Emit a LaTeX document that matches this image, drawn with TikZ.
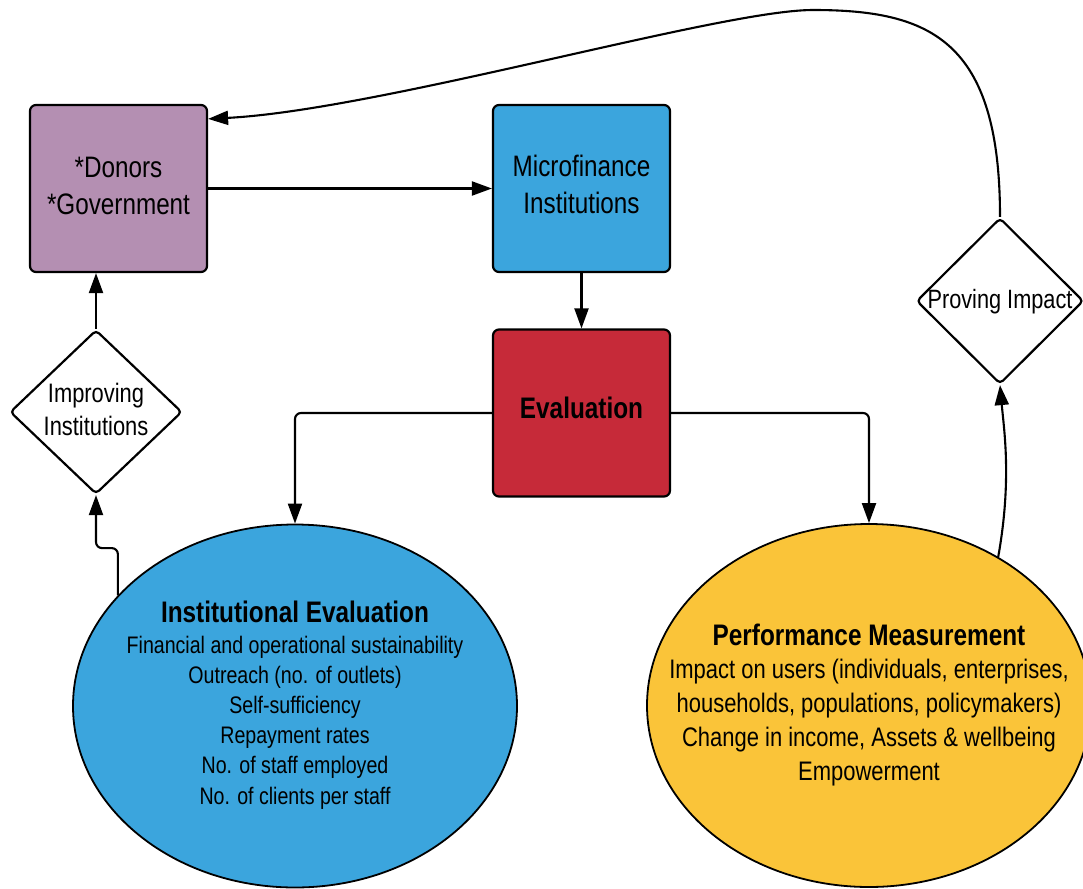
\documentclass[tikz,border=0pt]{standalone}
\usepackage{fontspec}
\setmainfont{Liberation Sans}[FakeStretch=0.82]
\usetikzlibrary{shapes.geometric,arrows.meta,calc}

\definecolor{donorpurple}{HTML}{B48FB2}
\definecolor{mfiblue}{HTML}{3BA5DD}
\definecolor{evalred}{HTML}{C62A39}
\definecolor{perfyellow}{HTML}{FAC439}

\tikzset{
  box/.style={draw=black, line width=2.2pt, rounded corners=6pt,
    minimum width=177pt, minimum height=167pt, inner sep=0pt},
  decision/.style={draw=black, line width=2.2pt, diamond, rounded corners=4pt,
    fill=white, inner sep=0pt},
  oval/.style={draw=black, line width=1.8pt, ellipse, inner sep=0pt,
    minimum width=444pt, minimum height=363pt},
  label/.style={align=center, anchor=base, inner sep=0pt},
  conn/.style={line width=2.1pt, -{Triangle[length=20pt,width=14pt]}},
}

\begin{document}
\begin{tikzpicture}[x=1pt, y=-1pt]
  \clip (0,0) rectangle (1083,888);
  \fill[white] (0,0) rectangle (1083,888);

  % main boxes
  \node[box, fill=donorpurple] (donors) at (118.5,188.5) {};
  \node[box, fill=mfiblue] (mfi) at (581.5,188.5) {};
  \node[box, fill=evalred] (eval) at (581.5,413) {};

  % decision diamonds
  \node[decision, minimum width=172pt, minimum height=164pt] (improving) at (96,412) {};
  \node[decision, minimum width=167pt, minimum height=166pt] (proving) at (1000,301) {};

  % evaluation outcomes
  \node[oval, fill=mfiblue] (inst) at (295,706) {};
  \node[oval, fill=perfyellow] (perf) at (869,705.5) {};

  % texts (multi-line labels are placed by the baseline of their last line)
  \node[label, font=\fontsize{29.6}{37}\selectfont] (donorsT) at (118.5,214) {*Donors\\*Government};
  \node[label, font=\fontsize{29.6}{37}\selectfont] (mfiT) at (581.5,213) {Microfinance\\Institutions};
  \node[label, font=\bfseries\fontsize{29.7}{37}\selectfont] (evalT) at (581.5,418) {Evaluation};
  \node[label, font=\fontsize{26.7}{33}\selectfont] (improvingT) at (96,435) {Improving\\Institutions};
  \node[label, font=\fontsize{26.5}{33}\selectfont] (provingT) at (1000,308) {Proving Impact};

  \node[label, font=\bfseries\fontsize{29.7}{35}\selectfont] (instTitle) at (295,622) {Institutional Evaluation};
  \node[label, font=\fontsize{23.9}{30.2}\selectfont] (instBody) at (295,804)
    {Financial and operational sustainability\\
     Outreach (no. of outlets)\\
     Self-sufficiency\\
     Repayment rates\\
     No. of staff employed\\
     No. of clients per staff};

  \node[label, font=\bfseries\fontsize{29.7}{35}\selectfont] (perfTitle) at (869,645) {Performance Measurement};
  \node[label, font=\fontsize{26.8}{33.7}\selectfont] (perfBody) at (869,780)
    {Impact on users (individuals, enterprises,\\
     households, populations, policymakers)\\
     Change in income, Assets \& wellbeing\\
     Empowerment};

  % connectors
  \draw[conn] (donors.east) -- (mfi.west);
  \draw[conn] (mfi.south) -- (eval.north);
  \draw[conn, rounded corners=6pt] (eval.west) -| (inst.north);
  \draw[conn, rounded corners=6pt] (eval.east) -| (perf.north);
  \draw[conn, rounded corners=6pt] (inst.148.5) |- ($(improving.south)+(0,53)$) -- (improving.south);
  \draw[conn] (improving.north) -- (improving.north |- donors.south);
  \draw[conn] (perf.49) .. controls (1012,480) and (1004,430) .. (proving.south);
  \draw[conn] (proving.north) .. controls (1000,40) and (930,10) .. (813,10)
    .. controls (720,10) and (380,110) .. ($(donors.north east)+(0,15)$);
\end{tikzpicture}
\end{document}
